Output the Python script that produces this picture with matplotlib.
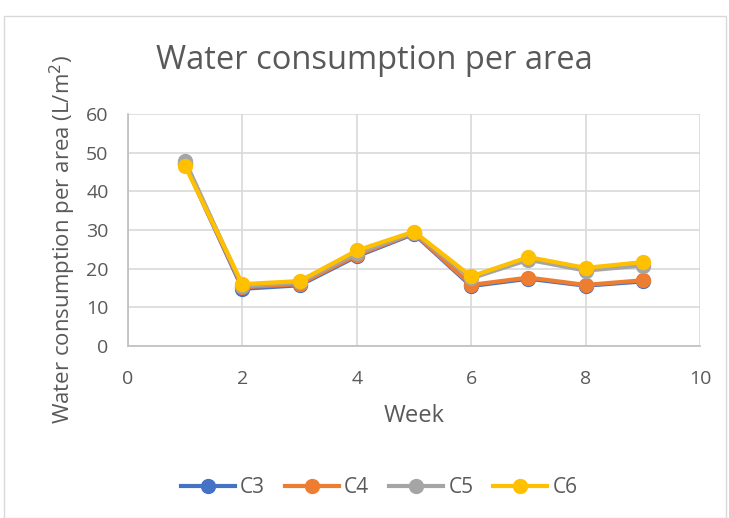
import matplotlib
matplotlib.use('Agg')
import matplotlib.pyplot as plt
from matplotlib.patches import Rectangle

plt.rcParams['font.family'] = ['Open Sans', 'DejaVu Sans']

weeks = [1, 2, 3, 4, 5, 6, 7, 8, 9]
c3 = [47.0, 14.8, 15.7, 23.2, 29.0, 15.5, 17.4, 15.6, 16.7]
c4 = [47.0, 15.2, 16.0, 23.5, 29.2, 15.8, 17.7, 15.8, 17.0]
c5 = [47.8, 15.5, 16.5, 24.0, 29.3, 17.5, 22.3, 19.5, 20.8]
c6 = [46.5, 16.0, 16.8, 24.7, 29.6, 18.0, 23.0, 20.2, 21.7]
series = {'C3': c3, 'C4': c4, 'C5': c5, 'C6': c6}
colors = {'C3': '#4472C4', 'C4': '#ED7D31', 'C5': '#A5A5A5', 'C6': '#FFC000'}

txt = '#595959'
fig = plt.figure(figsize=(7.29, 5.18), dpi=100)
ax = fig.add_axes([0.1756, 0.332, 0.7846, 0.448])

for name, vals in series.items():
    ax.plot(weeks, vals, '-o', color=colors[name], lw=3, markersize=10,
            label=name, zorder=3)

ax.set_xlim(0, 10)
ax.set_ylim(0, 60)
ax.set_xticks(range(0, 11, 2))
ax.set_yticks(range(0, 61, 10))
ax.grid(color='#d9d9d9', lw=1.2)
ax.set_axisbelow(True)
for s in ['top', 'right']:
    ax.spines[s].set_visible(False)
for s in ['left', 'bottom']:
    ax.spines[s].set_color('#bfbfbf')
    ax.spines[s].set_linewidth(1.2)
ax.tick_params(length=0, labelsize=14, colors=txt)
ax.tick_params(axis='y', pad=14)
ax.tick_params(axis='x', pad=17)

ax.set_xlabel('Week', fontsize=17, color=txt, labelpad=12)
ax.set_ylabel('Water consumption per area (L/m$^2$)', fontsize=16, color=txt)
ax.yaxis.set_label_coords(-0.088, 0.46)
fig.text(0.514, 0.884, 'Water consumption per area', fontsize=23.5, color=txt,
         ha='center', va='center')

fig.legend(loc='center', bbox_to_anchor=(0.52, 0.058), ncol=4, frameon=False,
           fontsize=15, labelcolor=txt, handlelength=2.6, columnspacing=0.95,
           handletextpad=0.25)

fig.patches.append(Rectangle((0.006, 0.0), 0.99, 0.97, transform=fig.transFigure,
                             fill=False, edgecolor='#d9d9d9', lw=1))

fig.savefig('out.png', dpi=100)
